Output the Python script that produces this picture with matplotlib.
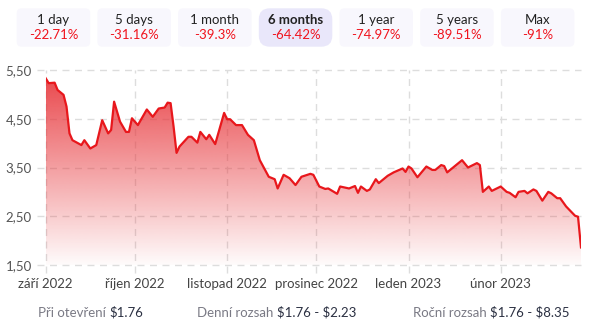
import matplotlib
matplotlib.use("Agg")

import matplotlib.pyplot as plt
import matplotlib.dates as mdates
import numpy as np
import pandas as pd
from matplotlib.patches import FancyBboxPatch

# ---------------------------------------------------
# DATA
# ---------------------------------------------------

dates = [
    "2022-09-01", "2022-09-02", "2022-09-04", "2022-09-05", "2022-09-07", "2022-09-08",
    "2022-09-09", "2022-09-10", "2022-09-13", "2022-09-14", "2022-09-16", "2022-09-18",
    "2022-09-20", "2022-09-22", "2022-09-23", "2022-09-24", "2022-09-26", "2022-09-28",
    "2022-09-29", "2022-09-30", "2022-10-02", "2022-10-05", "2022-10-07", "2022-10-09",
    "2022-10-11", "2022-10-12", "2022-10-13", "2022-10-14", "2022-10-15", "2022-10-16",
    "2022-10-19", "2022-10-20", "2022-10-22", "2022-10-23", "2022-10-25", "2022-10-26",
    "2022-10-28", "2022-10-31", "2022-11-01", "2022-11-02", "2022-11-04", "2022-11-06",
    "2022-11-08", "2022-11-10", "2022-11-12", "2022-11-15", "2022-11-17", "2022-11-18",
    "2022-11-20", "2022-11-22", "2022-11-24", "2022-11-26", "2022-11-29", "2022-11-30",
    "2022-12-02", "2022-12-04", "2022-12-05", "2022-12-08", "2022-12-09", "2022-12-12",
    "2022-12-14", "2022-12-15", "2022-12-16", "2022-12-18", "2022-12-19", "2022-12-21",
    "2022-12-22", "2022-12-25", "2022-12-27", "2022-12-30", "2022-12-31", "2023-01-01",
    "2023-01-02", "2023-01-04", "2023-01-07", "2023-01-09", "2023-01-10", "2023-01-12",
    "2023-01-13", "2023-01-14", "2023-01-19", "2023-01-21", "2023-01-22", "2023-01-24",
    "2023-01-25", "2023-01-26", "2023-01-28", "2023-01-29", "2023-02-01", "2023-02-03",
    "2023-02-04", "2023-02-06", "2023-02-07", "2023-02-09", "2023-02-10", "2023-02-12",
    "2023-02-13", "2023-02-15", "2023-02-17", "2023-02-18", "2023-02-20", "2023-02-21",
    "2023-02-23", "2023-02-26", "2023-02-27", "2023-02-28",
]

prices = [
    5.33, 5.23, 5.24, 5.09, 4.99, 4.75,
    4.20, 4.06, 3.96, 4.06, 3.89, 3.96,
    4.47, 4.20, 4.27, 4.85, 4.44, 4.23,
    4.23, 4.51, 4.37, 4.69, 4.54, 4.71,
    4.73, 4.83, 4.82, 4.34, 3.80, 3.93,
    4.13, 4.13, 4.01, 4.23, 4.08, 4.17,
    3.98, 4.62, 4.49, 4.49, 4.37, 4.37,
    4.17, 4.06, 3.65, 3.31, 3.26, 3.07,
    3.35, 3.28, 3.14, 3.31, 3.37, 3.35,
    3.11, 3.06, 3.07, 2.96, 3.11, 3.07,
    3.12, 2.98, 3.11, 3.02, 3.05, 3.26,
    3.18, 3.33, 3.40, 3.48, 3.41, 3.52,
    3.48, 3.30, 3.52, 3.45, 3.45, 3.55,
    3.53, 3.40, 3.65, 3.50, 3.53, 3.59,
    3.55, 3.00, 3.11, 3.02, 3.11, 3.00,
    2.98, 2.89, 3.00, 3.02, 2.97, 3.05,
    3.02, 2.82, 3.00, 2.97, 2.87, 2.87,
    2.70, 2.51, 2.49, 1.86,
]

month_ticks = ["2022-09-01", "2022-10-01", "2022-11-01", "2022-12-01", "2023-01-01", "2023-02-01"]
month_labels = ["září 2022", "říjen 2022", "listopad 2022", "prosinec 2022", "leden 2023", "únor 2023"]
y_ticks = [1.5, 2.5, 3.5, 4.5, 5.5]

periods = ["1 day", "5 days", "1 month", "6 months", "1 year", "5 years", "Max"]
changes = ["-22.71%", "-31.16%", "-39.3%", "-64.42%", "-74.97%", "-89.51%", "-91%"]
selected = "6 months"

stats_labels = ["Při otevření", "Denní rozsah", "Roční rozsah"]
stats_values = ["$1.76", "$1.76 - $2.23", "$1.76 - $8.35"]

# ---------------------------------------------------
# STYLE
# ---------------------------------------------------

plt.rcParams["font.family"] = ["Lato", "DejaVu Sans"]
RED = "#e8171c"
FILL = "#e8383d"
GRID = "#dddddd"

W, H = 600, 335
fig = plt.figure(figsize=(W / 100, H / 100), dpi=100)

# main chart area (pixel coords -> figure fraction)
left_px, right_px, top_px, bottom_px = 45.7, 581, 70, 265
ax = fig.add_axes([left_px / W, 1 - bottom_px / H,
                   (right_px - left_px) / W, (bottom_px - top_px) / H])

x = mdates.date2num(pd.to_datetime(dates))
y = np.array(prices)
xmin, xmax = x[0], x[-1]
ymin, ymax = 1.5, 5.5

ax.set_xlim(xmin, xmax)
ax.set_ylim(ymin, ymax)

# gradient fill under the line
grad = np.linspace(0, 1, 256).reshape(-1, 1)
rgba = np.zeros((256, 1, 4))
rgba[..., :3] = matplotlib.colors.to_rgb(FILL)
rgba[..., 3] = 0.02 + 0.93 * grad
img = ax.imshow(rgba, extent=[xmin, xmax, ymin, ymax], origin="lower",
                aspect="auto", zorder=1, interpolation="bilinear")
poly = ax.fill_between(x, y, ymin, color="none", lw=0)
clip_path = poly.get_paths()[0]
img.set_clip_path(clip_path, transform=ax.transData)

ax.plot(x, y, color=RED, lw=1.6, zorder=3, solid_joinstyle="round")

# dashed grid, reaching slightly outside the plot like the tick marks
for v in y_ticks:
    ax.axhline(v, xmin=-0.017, xmax=1.0, color=GRID, lw=1,
               ls=(0, (5, 4)), clip_on=False, zorder=0)
for d in month_ticks:
    ax.axvline(mdates.date2num(pd.Timestamp(d)), ymin=-0.042, ymax=1.0,
               color=GRID, lw=1, ls=(0, (5, 4)), clip_on=False, zorder=0)

ax.set_yticks(y_ticks)
ax.set_yticklabels([f"{v:.2f}".replace(".", ",") for v in y_ticks])
ax.set_xticks(mdates.date2num(pd.to_datetime(month_ticks)))
ax.set_xticklabels(month_labels)
ax.tick_params(axis="y", length=0, pad=10, labelsize=9.5, labelcolor="#555555")
ax.tick_params(axis="x", length=0, pad=9, labelsize=9.5, labelcolor="#444444")
for s in ax.spines.values():
    s.set_visible(False)
ax.set_facecolor("none")

# ---------------------------------------------------
# OVERLAY: period buttons and stats row
# ---------------------------------------------------

ov = fig.add_axes([0, 0, 1, 1], zorder=5)
ov.set_xlim(0, W)
ov.set_ylim(H, 0)
ov.axis("off")
ov.patch.set_alpha(0)

box_w, box_h, step, x0, y0 = 73.5, 38.4, 80.7, 16.7, 8.3
for i, (p, c) in enumerate(zip(periods, changes)):
    bx = x0 + i * step
    is_sel = p == selected
    ov.add_patch(FancyBboxPatch(
        (bx, y0), box_w, box_h,
        boxstyle="round,pad=0,rounding_size=" + ("11" if is_sel else "5"),
        fc="#e9e7fa" if is_sel else "#f8f7fd", ec="none"))
    ov.text(bx + box_w / 2, 20.5, p, ha="center", va="center", fontsize=9.5,
            color="#222222", fontweight="bold" if is_sel else "normal")
    ov.text(bx + box_w / 2, 35, c, ha="center", va="center", fontsize=9.5,
            color="#f0141e")

stats_x = [38.3, 196.7, 412.8]
for sx, lab, val in zip(stats_x, stats_labels, stats_values):
    t = ov.text(sx, 312.7, lab, ha="left", va="center", fontsize=9.5, color="#7a7a85")
    ov.annotate(val, xy=(1, 0.5), xycoords=t, xytext=(2.5, 0),
                textcoords="offset points", ha="left", va="center",
                fontsize=9.5, color="#2b3042", parse_math=False)

fig.savefig("out.png", dpi=100, facecolor="white")
plt.close(fig)
